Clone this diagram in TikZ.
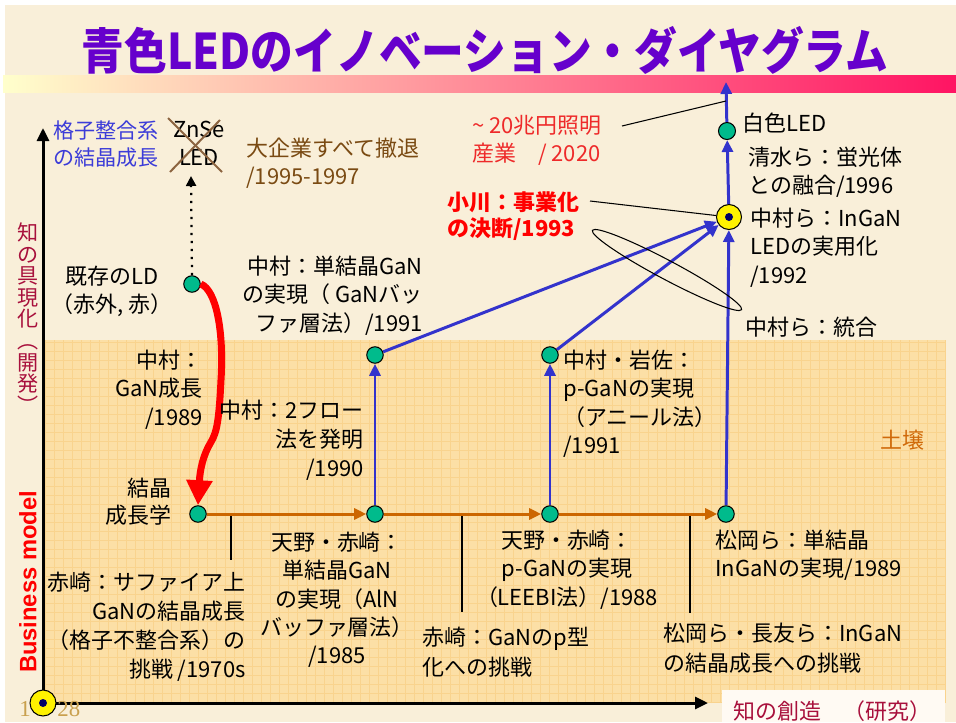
\documentclass[tikz,border=0pt]{standalone}
\usepackage{fontspec}
\setmainfont{Noto Sans CJK JP}
\newfontfamily\latinbold{Liberation Sans}
\newfontfamily\pagenumfont{Liberation Serif}
\usepackage{graphicx}
\usetikzlibrary{arrows.meta}
\usetikzlibrary{calc}
\usetikzlibrary{positioning}

\definecolor{paper}{HTML}{F9EFD9}
\definecolor{soil}{HTML}{FCDFA6}
\definecolor{soilgrid}{HTML}{F9D38E}
\definecolor{boxwhite}{HTML}{FFFAF3}
\definecolor{barleft}{HTML}{FFFFCC}
\definecolor{barmid}{HTML}{FBCBA8}
\definecolor{barright}{HTML}{FF1463}
\definecolor{titlepurple}{HTML}{6600CC}
\definecolor{linkblue}{HTML}{3333CC}
\definecolor{soilorange}{HTML}{CC6600}
\definecolor{gdotfill}{HTML}{00BB8C}
\definecolor{navy}{HTML}{000066}
\definecolor{labelblue}{HTML}{3C3CD8}
\definecolor{brownlbl}{HTML}{7A4A12}
\definecolor{crossbrown}{HTML}{8C6440}
\definecolor{trillion}{HTML}{EE2A2A}
\definecolor{axisred}{HTML}{A8103C}
\definecolor{soiltext}{HTML}{D06A0A}
\definecolor{pagegold}{HTML}{C9A04E}

\newcommand{\txtsize}{\fontsize{12.5}{16}\selectfont}

\tikzset{
  gdot/.style={draw=black, fill=gdotfill, circle, minimum size=3.3mm, inner sep=0pt, line width=0.6pt},
  ydot/.style={draw=black, fill=yellow, circle, minimum size=5mm, inner sep=0pt, line width=0.6pt,
    path picture={\fill[navy] (path picture bounding box.center) circle (0.8mm);}},
  blink/.style={draw=linkblue, line width=1.7pt, -{Triangle[length=2.4mm,width=2.2mm]}},
  olink/.style={draw=soilorange, line width=1.7pt, -{Triangle[length=2.4mm,width=2.2mm]}},
  axisline/.style={draw=black, line width=0.6mm, -{Triangle[length=2.6mm,width=2.4mm]}},
  tickline/.style={draw=black, line width=0.6pt},
  lbl/.style={inner sep=0pt, font=\txtsize},
}

\begin{document}
\begin{tikzpicture}[x=0.2mm, y=-0.2mm]
\useasboundingbox (0,0) rectangle (956,722);

% background, soil and title bar
\fill[white] (0,0) rectangle (956,722);
\fill[paper] (5,5) rectangle (956,722);
\fill[soil] (45,340) rectangle (945,703);
\draw[soilgrid, line width=0.25pt] (45,340) grid[step=1.8mm] (945,703);
\fill[boxwhite] (722,690) rectangle (945,722);
\shade[left color=barleft, middle color=barmid, right color=barright] (3,75) rectangle (956,92);

\node[inner sep=0pt, text=titlepurple, font=\fontsize{24.3}{28}\selectfont\bfseries] (ttl) at (485,50)
  {\scalebox{1}[1.15]{青色LEDのイノベーション・ダイヤグラム}};

% axes
\coordinate (o) at (43,703);
\coordinate (yend) at (43,128);
\coordinate (xend) at (708,703);
\draw[axisline] (o) -- (yend);
\draw[axisline] (o) -- (xend);

\node[inner sep=0pt, align=center, text=axisred, font=\fontsize{12}{12.3}\selectfont] (kgen) at (28,318)
  {知\\の\\具\\現\\化\\︵\\開\\発\\︶};
\node[inner sep=0pt, rotate=90, text=red, font=\latinbold\fontsize{13.5}{16}\selectfont\bfseries] (bmod) at (28,582) {Business model};
\node[inner sep=0pt, anchor=west, text=axisred, font=\txtsize] (kso) at (733,711) {知の創造　（研究）};
\node[inner sep=0pt, text=pagegold, font=\pagenumfont\fontsize{13}{16}\selectfont] (pg1) at (25,709) {1};
\node[inner sep=0pt, anchor=west, text=pagegold, font=\pagenumfont\fontsize{13}{16}\selectfont] (pg2) at (57,709) {28};
\node[ydot, minimum size=5.2mm] (org) at (o) {};

% nodes
\node[gdot] (ld) at (192,284) {};
\node[gdot] (cg) at (198,514) {};
\node[gdot] (a1) at (375,514) {};
\node[gdot] (a2) at (550,514) {};
\node[gdot] (a3) at (726,514) {};
\node[gdot] (b1) at (375,355) {};
\node[gdot] (b2) at (550,355) {};
\node[ydot] (key) at (729,217) {};
\node[gdot, minimum size=3.4mm] (wl) at (727,131) {};
\coordinate (top) at (726,82);
\coordinate (lm) at (726,101);
\coordinate (lz) at (191,176);

% ticks under the soil line
\coordinate (t1) at (231,514);
\coordinate (t1b) at (231,560);
\coordinate (t2) at (462,514);
\coordinate (t2b) at (462,612);
\coordinate (t3) at (690,514);
\coordinate (t3b) at (690,613);
\draw[tickline] (t1) -- (t1b);
\draw[tickline] (t2) -- (t2b);
\draw[tickline] (t3) -- (t3b);

% connectors
\draw[olink] (cg) -- (a1);
\draw[olink] (a1) -- (a2);
\draw[olink] (a2) -- (a3);
\draw[blink] (a1) -- (b1);
\draw[blink] (a2) -- (b2);
\draw[blink] (a3) -- (key);
\draw[blink] (b1) -- (key);
\draw[blink] (b2) -- (key);
\draw[blink] (key) -- (wl);
\draw[blink] (wl) -- (top);

\draw[red, line width=1.4mm, -{Triangle[length=5mm,width=5mm]}]
  (ld.east) .. controls (216,290) and (224,330) .. (221,380)
  .. controls (219,420) and (217,432) .. (211,442)
  .. controls (203,455) and (200,470) .. (cg.north);
\draw[black, line width=0.45mm, dash pattern=on 0.45mm off 1.15mm, -{Triangle[length=2mm,width=2mm]}] (ld.north) -- (lz);

\coordinate (trx) at (622,126);
\coordinate (ogx) at (590,201);
\draw[line width=0.6pt] (trx) -- (lm);
\draw[line width=0.6pt] (ogx) -- (key);
\draw[line width=0.6pt, rotate around={-28:(667,270)}] (667,270) ellipse [x radius=16.9mm, y radius=1.9mm];

% labels
\node[lbl, anchor=north west, align=left, text=labelblue, font=\fontsize{12}{15.4}\selectfont] (gk) at (53,120) {格子整合系\\の結晶成長};
\node[lbl, anchor=north, align=center] (zn) at (199,121) {ZnSe\\LED};
\draw[crossbrown, line width=0.4mm] (168,118) -- (222,172);
\draw[crossbrown, line width=0.4mm] (220,120) -- (170,172);
\node[lbl, anchor=north west, align=left, text=brownlbl] (tk) at (246,138) {大企業すべて撤退\\/1995-1997};
\node[lbl, anchor=north, align=center] (ldt) at (112,266) {既存のLD\\（赤外, 赤）};
\node[lbl, anchor=north east, align=right] (nk1) at (423,256) {中村：単結晶GaN\\の実現（ GaNバッ\\ファ層法）/1991};
\node[lbl, anchor=north west, align=left, text=trillion] (tr) at (472,115) {\textasciitilde{} 20兆円照明\\産業\quad / 2020};
\node[lbl, anchor=north west, align=left, text=red, font=\fontsize{12.5}{15}\selectfont\bfseries] (og) at (447,191) {小川：事業化\\の決断/1993};
\node[lbl, anchor=west] (wlt) at (742,123) {白色LED};
\node[lbl, anchor=north west, align=left] (sm) at (748,147) {清水ら：蛍光体\\との融合/1996};
\node[lbl, anchor=north west, align=left] (nk3) at (750,208) {中村ら：InGaN\\LEDの実用化\\/1992};
\node[lbl, anchor=west] (tg) at (745,327) {中村ら：統合};
\node[lbl, anchor=north east, align=right] (nk2) at (203,350) {中村：\\GaN成長\\/1989};
\node[lbl, anchor=north east, align=right, font=\fontsize{12.5}{16.4}\selectfont] (nk4) at (364,400) {中村：2フロー\\法を発明\\/1990};
\node[lbl, anchor=north east, align=right, font=\fontsize{12.5}{15.4}\selectfont] (kc) at (172,478) {結晶\\成長学};
\node[lbl, anchor=north west, align=left] (ni) at (563,350) {中村・岩佐：\\p-GaNの実現\\（アニール法）\\/1991};
\node[lbl, anchor=west, text=soiltext] (dj) at (880,440) {土壌};
\node[lbl, anchor=north east, align=right, font=\fontsize{12.5}{16.4}\selectfont] (ak1) at (246,572) {赤崎：サファイア上\\GaNの結晶成長\\（格子不整合系）の\\挑戦 /1970s};
\node[lbl, anchor=north, align=center] (aa1) at (337,532) {天野・赤崎：\\単結晶GaN\\の実現（AlN\\バッファ層法）\\/1985};
\node[lbl, anchor=north west, align=left, font=\fontsize{12.5}{17}\selectfont] (ak2) at (422,627) {赤崎：GaNのp型\\化への挑戦};
\node[lbl, anchor=north, align=center] (aa2) at (567,530) {天野・赤崎：\\p-GaNの実現\\（LEEBI法）/1988};
\node[lbl, anchor=north west, align=left] (mt1) at (715,530) {松岡ら：単結晶\\InGaNの実現/1989};
\node[lbl, anchor=north west, align=left, font=\fontsize{12.5}{17}\selectfont] (mt2) at (663,623) {松岡ら・長友ら：InGaN\\の結晶成長への挑戦};

\end{tikzpicture}
\end{document}
